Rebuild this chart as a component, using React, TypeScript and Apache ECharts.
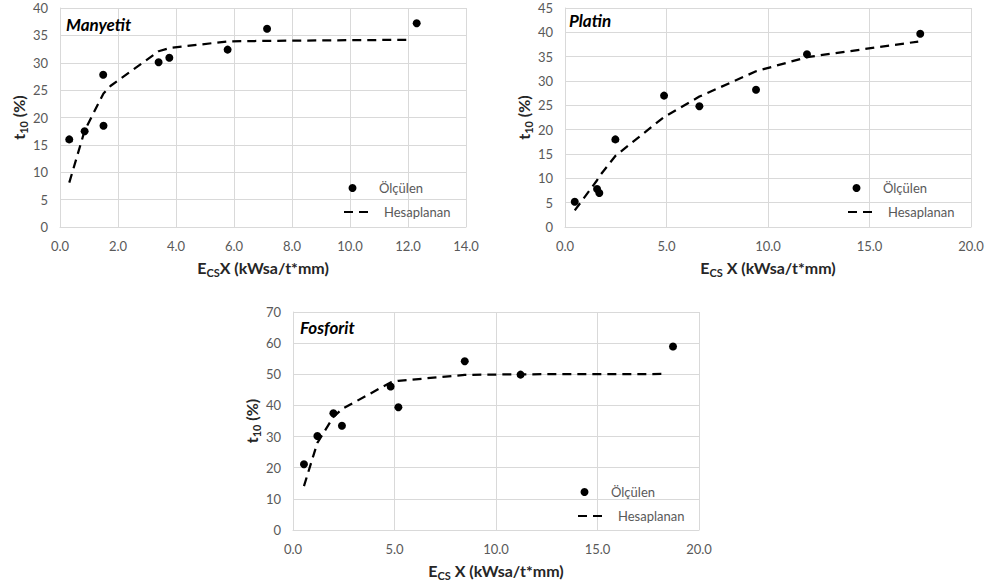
import React, { useEffect, useRef } from "react";
import * as echarts from "echarts";

// ---- Data ----
const manyetitX = [0.32, 0.85, 1.49, 1.5, 3.4, 3.77, 5.78, 7.14, 12.3];
const manyetitY = [16.0, 17.5, 27.8, 18.5, 30.1, 30.9, 32.4, 36.2, 37.2];
const manyetitCalcX = [0.32, 0.85, 1.5, 1.75, 3.4, 3.8, 5.78, 7.14, 12.0];
const manyetitCalcY = [8.1, 17.6, 24.4, 25.8, 32.1, 32.7, 33.9, 34.0, 34.2];

const platinX = [0.48, 1.58, 1.69, 2.48, 4.88, 6.62, 9.41, 11.92, 17.5];
const platinY = [5.2, 7.8, 7.0, 18.0, 27.0, 24.8, 28.2, 35.5, 39.7];
const platinCalcX = [0.48, 1.58, 1.69, 2.48, 4.88, 6.62, 9.41, 11.92, 17.4];
const platinCalcY = [3.4, 9.6, 10.4, 14.6, 22.6, 26.8, 32.0, 34.9, 38.1];

const fosforitX = [0.54, 1.2, 1.99, 2.41, 4.81, 5.19, 8.46, 11.21, 18.72];
const fosforitY = [21.1, 30.2, 37.5, 33.5, 46.1, 39.4, 54.2, 49.9, 58.9];
const fosforitCalcX = [0.54, 1.2, 1.99, 2.41, 4.81, 5.19, 8.46, 11.21, 18.3];
const fosforitCalcY = [14.1, 28.0, 36.3, 38.8, 47.4, 47.9, 49.8, 50.0, 50.1];

const chartTitles = ["Manyetit", "Platin", "Fosforit"];
const legendNames = ["Ölçülen", "Hesaplanan"];

const FONT = "Lato";
const TICK = "#595959";
const GRIDC = "#d9d9d9";
const TITLEC = "#262626";

const zip = (xs: number[], ys: number[]) => xs.map((x, i) => [x, ys[i]]);

const richName = {
  b: { fontFamily: FONT, fontWeight: "bold", fontSize: 16, color: TITLEC, lineHeight: 21, verticalAlign: "middle" },
  s: { fontFamily: FONT, fontWeight: "bold", fontSize: 11, color: TITLEC, verticalAlign: "bottom" },
};

export default function App() {
  const ref = useRef<HTMLDivElement>(null);
  useEffect(() => {
    if (!ref.current) return;
    const chart = echarts.init(ref.current, undefined, { renderer: "svg" });

    const grids = [
      { left: 60, top: 8, width: 406, height: 219 },
      { left: 565, top: 8, width: 406, height: 219 },
      { left: 293, top: 312, width: 406, height: 218 },
    ];
    const xMax = [14, 20, 20];
    const xInt = [2, 5, 5];
    const yMax = [40, 45, 70];
    const yInt = [5, 5, 10];
    const xNames = ["{b|E}{s|CS}{b|X (kWsa/t*mm)}", "{b|E}{s|CS}{b| X (kWsa/t*mm)}", "{b|E}{s|CS}{b| X (kWsa/t*mm)}"];

    const xAxis = grids.map((_, i) => ({
      type: "value",
      gridIndex: i,
      min: 0,
      max: xMax[i],
      interval: xInt[i],
      name: xNames[i],
      nameLocation: "middle",
      nameGap: 30,
      nameTextStyle: { fontWeight: "bold", fontFamily: FONT, fontSize: 16, rich: richName },
      axisLine: { show: true, lineStyle: { color: GRIDC } },
      axisTick: { show: false },
      axisLabel: { color: TICK, fontFamily: FONT, fontSize: 13, margin: 12, formatter: (v: number) => v.toFixed(1) },
      splitLine: { show: true, lineStyle: { color: GRIDC, width: 1 } },
    }));
    const yAxis = grids.map((_, i) => ({
      type: "value",
      gridIndex: i,
      min: 0,
      max: yMax[i],
      interval: yInt[i],
      name: "{b|t}{s|10}{b| (%)}",
      nameLocation: "middle",
      nameRotate: 90,
      nameGap: 27,
      nameTextStyle: { fontWeight: "bold", fontFamily: FONT, fontSize: 16, rich: richName },
      axisLine: { show: true, lineStyle: { color: GRIDC } },
      axisTick: { show: false },
      axisLabel: { color: TICK, fontFamily: FONT, fontSize: 13, margin: 12 },
      splitLine: { show: true, lineStyle: { color: GRIDC, width: 1 } },
    }));

    const measured = [zip(manyetitX, manyetitY), zip(platinX, platinY), zip(fosforitX, fosforitY)];
    const calc = [zip(manyetitCalcX, manyetitCalcY), zip(platinCalcX, platinCalcY), zip(fosforitCalcX, fosforitCalcY)];

    const series: any[] = [];
    for (let i = 0; i < 3; i++) {
      series.push({
        type: "line",
        name: legendNames[1],
        xAxisIndex: i,
        yAxisIndex: i,
        data: calc[i],
        symbol: "none",
        showSymbol: false,
        lineStyle: { color: "#000", width: 2.25, type: [9, 6] },
        itemStyle: { color: "#000", opacity: 0 },
        z: 2,
      });
      series.push({
        type: "scatter",
        name: legendNames[0],
        xAxisIndex: i,
        yAxisIndex: i,
        data: measured[i],
        symbol: "circle",
        symbolSize: 8,
        itemStyle: { color: "#000", opacity: 1 },
        z: 3,
      });
    }

    const legendPos = [
      { mx: 348.5, my: 180, dx: 343, dy: 204 },
      { mx: 852.5, my: 180, dx: 847, dy: 204 },
      { mx: 580.5, my: 484, dx: 577, dy: 508 },
    ];
    const legends: any[] = [];
    legendPos.forEach((p) => {
      const base = {
        orient: "horizontal",
        padding: 0,
        itemWidth: 27,
        itemHeight: 8,
        selectedMode: false,
        textStyle: { color: TICK, fontFamily: FONT, fontSize: 13, lineHeight: 16, padding: [0, 0, 0, 8] },
      };
      legends.push({ ...base, left: p.mx, top: p.my, data: [{ name: legendNames[0], itemStyle: { color: "#000", opacity: 1 } }] });
      legends.push({ ...base, left: p.dx, top: p.dy, data: [{ name: legendNames[1], itemStyle: { opacity: 0 } }] });
    });

    const titlePos = [
      { left: 66, top: 16 },
      { left: 569, top: 12 },
      { left: 300, top: 319 },
    ];
    const title = titlePos.map((p, i) => ({
      text: chartTitles[i],
      left: p.left,
      top: p.top,
      padding: 0,
      textStyle: { fontFamily: FONT, fontWeight: "bold", fontStyle: "italic", fontSize: 17, color: "#000" },
    }));

    chart.setOption({
      animation: false,
      backgroundColor: "#fff",
      title,
      grid: grids,
      xAxis,
      yAxis,
      legend: legends,
      series,
    });
    return () => chart.dispose();
  }, []);
  return <div ref={ref} style={{ position: "fixed", left: 0, top: 0, width: 989, height: 586 }} />;
}
